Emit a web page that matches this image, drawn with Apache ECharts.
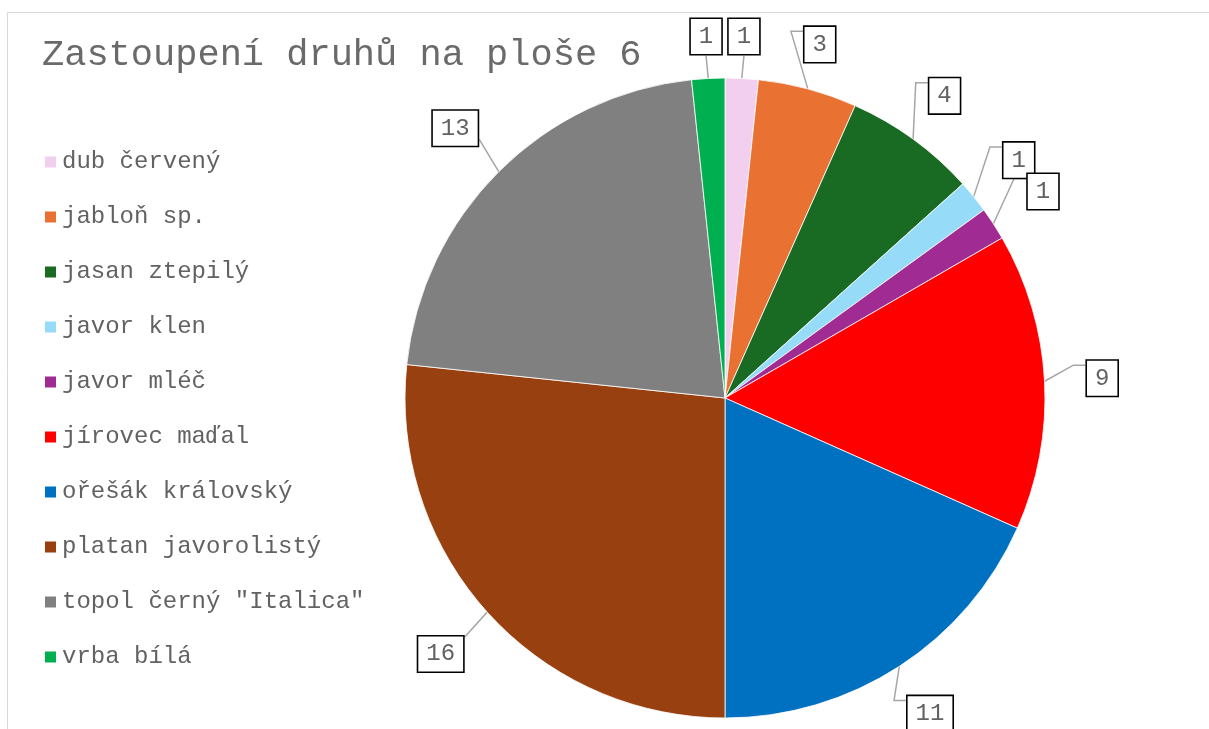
<!DOCTYPE html>
<html>
<head>
<meta charset="utf-8">
<script src="https://cdn.jsdelivr.net/npm/echarts@6/dist/echarts.min.js"></script>
<style>
html,body{margin:0;padding:0;background:#fff;}
#c{width:1209px;height:729px;}
</style>
</head>
<body>
<div id="c"></div>
<script>
const categories = ['dub červený','jabloň sp.','jasan ztepilý','javor klen','javor mléč','jírovec maďal','ořešák královský','platan javorolistý','topol černý "Italica"','vrba bílá'];
const values = [1,3,4,1,1,9,11,16,13,1];
const colors = ['#F2CEEF','#E97132','#196B24','#96DCF8','#A02B93','#FF0000','#0070C0','#984010','#808080','#00B050'];
const titleText = 'Zastoupení druhů na ploše 6';

const CX = 725, CY = 398, R = 320;
const total = values.reduce((a, b) => a + b, 0);
const midAngles = [];
{
  let acc = 0;
  values.forEach(v => { midAngles.push((acc + v / 2) / total * 2 * Math.PI); acc += v; });
}

const chart = echarts.init(document.getElementById('c'));
const FONT = '"Liberation Mono", "Courier New", monospace';
chart.setOption({
  animation: false,
  backgroundColor: '#fff',
  graphic: [{
    type: 'rect', shape: {x: 7.5, y: 12.5, width: 1300, height: 800},
    style: {fill: 'none', stroke: '#d9d9d9', lineWidth: 1}, silent: true, z: -1
  }],
  title: {
    text: titleText, left: 42, top: 37, padding: 0,
    textStyle: {fontFamily: FONT, fontSize: 37, fontWeight: 'normal', color: '#6a6a6a'}
  },
  legend: {
    orient: 'vertical', left: 43, top: 150, padding: 0,
    itemWidth: 13, itemHeight: 13, itemGap: 31,
    icon: 'rect',
    textStyle: {fontFamily: FONT, fontSize: 24, color: '#626262'},
    data: categories
  },
  series: [{
    type: 'pie',
    center: [CX, CY],
    radius: R,
    startAngle: 90,
    clockwise: true,
    avoidLabelOverlap: false,
    data: categories.map((n, i) => ({name: n, value: values[i], itemStyle: {color: colors[i]}})),
    itemStyle: {borderColor: '#fff', borderWidth: 0.8},
    label: {
      show: true, position: 'outside', formatter: '{c}',
      fontFamily: FONT, fontSize: 24, color: '#626262',
      backgroundColor: '#fff', borderColor: '#000', borderWidth: 1.6,
      padding: [6, 8, 5, 8]
    },
    labelLine: {show: true, length: 18, length2: 12, lineStyle: {color: '#a6a6a6', width: 1.5}},
    labelLayout: function (p) {
      const a = midAngles[p.dataIndex];
      const s = Math.sin(a), c = Math.cos(a);
      const w = p.labelRect.width, h = p.labelRect.height;
      const sup = Math.abs(s) * w / 2 + Math.abs(c) * h / 2;
      const gap = 22 + 18 * s * s;
      const d = R + gap + sup;
      const lx = CX + d * s, ly = CY - d * c;
      const ex = CX + R * s, ey = CY - R * c;
      let pts;
      if (Math.abs(s) < 0.25) {
        const ty = c > 0 ? ly + h / 2 : ly - h / 2;
        pts = [[ex, ey], [lx, ty]];
      } else if (s > 0) {
        const side = lx - w / 2;
        const py = ly - h / 2 + 6;
        pts = [[ex, ey], [side - 12, py], [side, py]];
      } else {
        const side = lx + w / 2;
        const py = c > 0 ? ly + h / 2 - 8 : ly - h / 2 + 2;
        pts = [[ex, ey], [side, py]];
      }
      return {x: lx, y: ly, align: 'center', verticalAlign: 'middle', labelLinePoints: pts};
    },
    emphasis: {disabled: true}
  }]
});
</script>
</body>
</html>
